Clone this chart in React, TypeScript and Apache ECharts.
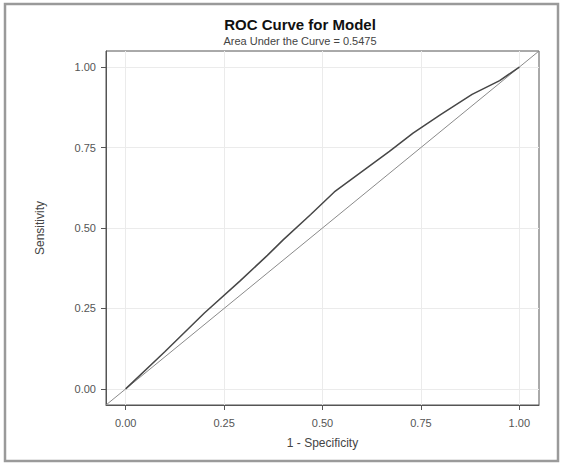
import React, { useEffect, useRef } from "react";
import * as echarts from "echarts";

const fpr = [0, 0.1, 0.2, 0.29, 0.36, 0.4, 0.47, 0.53, 0.6, 0.67, 0.73, 0.8, 0.88, 0.95, 1.0];
const tpr = [0, 0.116, 0.236, 0.335, 0.415, 0.463, 0.542, 0.612, 0.675, 0.738, 0.795, 0.852, 0.915, 0.958, 1.0];
const diagonal = [-0.05, 1.05];
const tickValues = [0, 0.25, 0.5, 0.75, 1.0];
const tickLabels = ["0.00", "0.25", "0.50", "0.75", "1.00"];
const titleText = "ROC Curve for Model";
const subtitleText = "Area Under the Curve = 0.5475";
const xName = "1 - Specificity";
const yName = "Sensitivity";

const FONT = "'Liberation Sans', Arial, sans-serif";

export default function App() {
  const ref = useRef<HTMLDivElement>(null);
  useEffect(() => {
    if (!ref.current) return;
    const chart = echarts.init(ref.current, null, { renderer: "svg" });
    const fmt = (v: number) => {
      const i = tickValues.findIndex((t) => Math.abs(t - v) < 1e-6);
      return i >= 0 ? tickLabels[i] : "";
    };
    const axisCommon = (name: string, gap: number, margin: number) => ({
      type: "value" as const,
      min: -0.05,
      max: 1.05,
      name,
      nameLocation: "middle" as const,
      nameGap: gap,
      nameTextStyle: { fontFamily: FONT, fontSize: 12, color: "#444" },
      axisLine: { show: true, onZero: false, lineStyle: { color: "#555", width: 1 } },
      axisTick: { show: true, inside: false, length: 5, customValues: tickValues, lineStyle: { color: "#555" } },
      axisLabel: { customValues: tickValues, formatter: fmt, fontFamily: FONT, fontSize: 11, color: "#555", margin },
      splitLine: { show: true, lineStyle: { color: "#ebebeb", width: 1 } },
    });
    chart.setOption({
      animation: false,
      backgroundColor: "#fff",
      grid: { left: 106, right: 23, top: 51, bottom: 58, show: true, borderColor: "#555", borderWidth: 1, containLabel: false },
      xAxis: axisCommon(xName, 32, 12),
      yAxis: axisCommon(yName, 60, 10),
      graphic: [
        { type: "rect", shape: { x: 5, y: 4, width: 553, height: 457 }, style: { fill: "none", stroke: "#9a9a9a", lineWidth: 2.5 }, silent: true },
        { type: "text", x: 300, y: 24, style: { text: titleText, textAlign: "center", textVerticalAlign: "middle", fontFamily: FONT, fontSize: 15, fontWeight: "bold", fill: "#111" } },
        { type: "text", x: 300, y: 41, style: { text: subtitleText, textAlign: "center", textVerticalAlign: "middle", fontFamily: FONT, fontSize: 11, fill: "#444" } },
      ],
      series: [
        {
          type: "line",
          data: diagonal.map((v) => [v, v]),
          symbol: "none",
          lineStyle: { color: "#8a8a8a", width: 1 },
          silent: true,
        },
        {
          type: "line",
          data: fpr.map((x, i) => [x, tpr[i]]),
          symbol: "none",
          lineStyle: { color: "#474747", width: 1.5 },
          silent: true,
        },
      ],
    });
    return () => chart.dispose();
  }, []);
  return <div ref={ref} style={{ position: "fixed", left: 0, top: 0, width: 562, height: 463 }} />;
}
